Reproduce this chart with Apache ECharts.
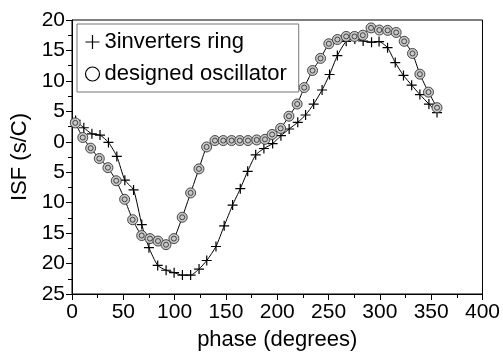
<!DOCTYPE html>
<html>
<head>
<meta charset="utf-8">
<script src="https://cdn.jsdelivr.net/npm/echarts@6/dist/echarts.min.js"></script>
<style>
  html, body { margin: 0; padding: 0; background: #fff; }
  #chart { width: 503px; height: 356px; }
</style>
</head>
<body>
<div id="chart"></div>
<script>
// phase (degrees) and ISF (s/C)
const ringX = [3.5, 11.5, 19.4, 27.3, 35.5, 43.7, 51.5, 60, 68, 75, 83.5, 91.7, 99.5, 107.6, 115.6, 123.8, 131.3, 140.3, 148.3, 156.5, 164, 171.2, 179, 187, 195.5, 203.6, 211.6, 220, 227.6, 235.5, 243.7, 251, 258.6, 267.2, 275.6, 283.7, 291.9, 299.2, 307.5, 315, 323, 331, 339, 347.8, 355.7];
const ringY = [3.5, 2.3, 1.3, 1.1, -0.1, -2.4, -6.3, -7.9, -13.6, -17.4, -20.3, -21.1, -21.5, -21.9, -21.9, -20.9, -19.5, -17.2, -13.8, -10.4, -7.7, -4.85, -2.15, -1.1, -0.3, 1.0, 2.1, 3.2, 4.4, 6.2, 8.5, 11.05, 14.15, 16.5, 16.9, 16.55, 16.35, 16.45, 15.45, 13.0, 10.9, 9.3, 7.75, 6.2, 4.8];

const oscX = [3.2, 10.5, 18.2, 26.6, 35, 43.1, 51.3, 59.1, 67.9, 76, 83.8, 91.6, 99.3, 107.4, 115.6, 123.7, 131.2, 139.3, 147.4, 155.5, 163.5, 171.5, 180, 188, 195, 203.3, 211.4, 219.4, 226.3, 234.4, 242.2, 250.3, 258.6, 267.2, 275.3, 283.4, 291.4, 299.5, 307.6, 315.9, 323.7, 331.8, 339, 347.4, 355.7];
const oscY = [3.1, 0.7, -1.05, -2.75, -4.25, -6.4, -9.45, -12.8, -15.4, -15.9, -16.3, -16.9, -15.9, -12.4, -8.4, -4.45, -0.85, 0.2, 0.2, 0.2, 0.2, 0.2, 0.3, 0.4, 1.2, 2.2, 4.2, 6.2, 8.9, 11.7, 13.7, 16.1, 16.8, 17.3, 17.3, 17.5, 18.7, 18.35, 18.3, 17.95, 16.5, 14.5, 11.1, 8.15, 5.6];

const seriesNames = ["3inverters ring", "designed oscillator"];
const xTicks = [0, 50, 100, 150, 200, 250, 300, 350, 400];
const yTicks = [-25, -20, -15, -10, -5, 0, 5, 10, 15, 20];

const FONT = "Liberation Sans, Arial, sans-serif";
const plusIcon = "path://M5,0L5,10M0,5L10,5";
const ringIcon = "path://M0,-10A10,10 0 1,1 0,10A10,10 0 1,1 0,-10Z M0,-5A5,5 0 1,1 0,5A5,5 0 1,1 0,-5Z";

const zip = (xs, ys) => xs.map((x, i) => [x, ys[i]]);

const chart = echarts.init(document.getElementById("chart"), null, { renderer: "canvas" });

chart.setOption({
  animation: false,
  backgroundColor: "#fff",
  textStyle: { fontFamily: FONT },
  grid: {
    left: 72, right: 20, top: 20, bottom: 45,
    show: true, borderColor: "#000", borderWidth: 1
  },
  legend: {
    orient: "vertical",
    left: 77, top: 24,
    padding: [7, 12, 7, 6],
    itemGap: 10,
    itemWidth: 14, itemHeight: 14,
    backgroundColor: "#fff",
    borderColor: "#777", borderWidth: 1, borderRadius: 0,
    textStyle: { fontSize: 22, color: "#000", fontFamily: FONT },
    data: [
      { name: seriesNames[0], icon: plusIcon, itemStyle: { color: "none", borderColor: "#000", borderWidth: 1.2 } },
      { name: seriesNames[1], icon: "circle", itemStyle: { color: "#fff", borderColor: "#000", borderWidth: 1.2 } }
    ]
  },
  xAxis: {
    type: "value",
    min: xTicks[0], max: xTicks[xTicks.length - 1], interval: 50,
    name: "phase (degrees)",
    nameLocation: "middle", nameGap: 35,
    nameTextStyle: { fontSize: 22, color: "#000", fontFamily: FONT },
    axisLine: { onZero: false, lineStyle: { color: "#000", width: 1 } },
    axisTick: { show: true, length: 6, lineStyle: { color: "#000" } },
    minorTick: { show: true, splitNumber: 2, length: 4, lineStyle: { color: "#000" } },
    splitLine: { show: false },
    axisLabel: { fontSize: 21, color: "#000", margin: 8, fontFamily: FONT }
  },
  yAxis: {
    type: "value",
    min: yTicks[0], max: yTicks[yTicks.length - 1], interval: 5,
    name: "ISF (s/C)",
    nameLocation: "middle", nameGap: 38, nameRotate: 90,
    nameTextStyle: { fontSize: 22, color: "#000", fontFamily: FONT },
    axisLine: { show: true, onZero: false, lineStyle: { color: "#000", width: 1 } },
    axisTick: { show: true, length: 6, lineStyle: { color: "#000" } },
    minorTick: { show: true, splitNumber: 2, length: 4, lineStyle: { color: "#000" } },
    splitLine: { show: false },
    axisLabel: {
      fontSize: 21, color: "#000", margin: 7, fontFamily: FONT,
      formatter: (v) => String(Math.abs(v))
    }
  },
  series: [
    {
      name: seriesNames[0],
      type: "line",
      data: zip(ringX, ringY),
      smooth: 0.2,
      symbol: plusIcon,
      symbolSize: 10,
      lineStyle: { color: "#000", width: 1 },
      itemStyle: { color: "none", borderColor: "#000", borderWidth: 1.2 }
    },
    {
      name: seriesNames[1],
      type: "line",
      data: zip(oscX, oscY),
      smooth: 0.2,
      symbol: ringIcon,
      symbolSize: 10,
      lineStyle: { color: "#000", width: 1 },
      itemStyle: { color: "#c8c8c8", borderColor: "#333", borderWidth: 0.9 }
    }
  ]
});
</script>
</body>
</html>
